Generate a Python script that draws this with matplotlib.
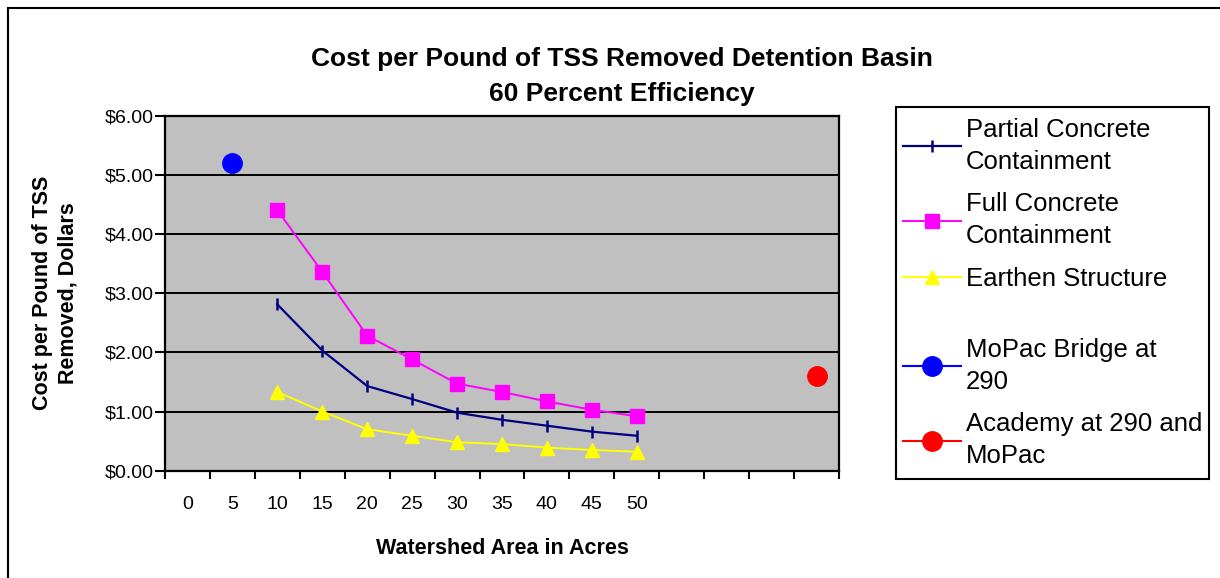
import matplotlib
matplotlib.use("Agg")
import matplotlib.pyplot as plt
from matplotlib.patches import Rectangle

plt.rcParams['font.family'] = ['Liberation Sans', 'DejaVu Sans']

# ---- data ----
categories = ["0", "5", "10", "15", "20", "25", "30", "35", "40", "45", "50", "", "", "", ""]
area_idx = [2, 3, 4, 5, 6, 7, 8, 9, 10]  # category positions for 10..50 acres
partial = [2.81, 2.03, 1.43, 1.21, 0.98, 0.86, 0.76, 0.66, 0.59]
full = [4.40, 3.36, 2.28, 1.88, 1.47, 1.33, 1.17, 1.03, 0.92]
earthen = [1.33, 1.00, 0.70, 0.59, 0.48, 0.45, 0.39, 0.35, 0.32]
mopac_idx, mopac_val = 1, 5.20
academy_idx, academy_val = 14, 1.60
yticks = [0, 1, 2, 3, 4, 5, 6]
ytick_labels = ["$0.00", "$1.00", "$2.00", "$3.00", "$4.00", "$5.00", "$6.00"]

W, H = 1220, 578
fig = plt.figure(figsize=(W / 100, H / 100), dpi=100)
fig.patch.set_facecolor("white")

# outer chart border
fig.add_artist(Rectangle((8 / W, -0.1), 1.2, 1.1 - 8 / H, transform=fig.transFigure,
                         fill=False, edgecolor="black", linewidth=1.5))

ax = fig.add_axes([165 / W, 1 - 470.7 / H, (839 - 165) / W, (470.7 - 115.5) / H])
ax.set_facecolor("#C0C0C0")

ax.plot(area_idx, partial, color="#000080", linewidth=1.6, marker="|",
        markersize=9, markeredgewidth=1.8, label="Partial Concrete\nContainment", zorder=4)
ax.plot(area_idx, full, color="#FF00FF", linewidth=1.4, marker="s",
        markersize=9.5, label="Full Concrete\nContainment", zorder=4)
ax.plot(area_idx, earthen, color="#FFFF00", linewidth=1.4, marker="^",
        markersize=10.5, label="Earthen Structure", zorder=4)
ax.plot([mopac_idx], [mopac_val], color="#0000FF", linestyle="none", marker="o",
        markersize=14, label="MoPac Bridge at\n290", zorder=4)
ax.plot([academy_idx], [academy_val], color="#FF0000", linestyle="none", marker="o",
        markersize=14, label="Academy at 290 and\nMoPac", zorder=4)

ax.set_xlim(-0.5, len(categories) - 0.5)
ax.set_ylim(0, 6)
ax.set_yticks(yticks)
ax.set_yticklabels(ytick_labels, fontsize=14)
ax.yaxis.grid(True, color="black", linewidth=1.4)
ax.set_axisbelow(True)

# category boundaries as ticks, labels centered between
ax.set_xticks([i - 0.5 for i in range(len(categories) + 1)])
ax.set_xticklabels([])
ax.set_xticks(range(len(categories)), minor=True)
ax.set_xticklabels(categories, minor=True, fontsize=14)
ax.tick_params(axis="x", which="major", length=6, width=1.5, direction="out")
ax.tick_params(axis="x", which="minor", length=0, pad=18)
ax.tick_params(axis="y", length=7, width=1.5, pad=1)

for s in ax.spines.values():
    s.set_linewidth(1.6)
    s.set_color("black")

ax.set_xlabel("Watershed Area in Acres", fontsize=15.5, fontweight="bold", labelpad=18)
ax.set_ylabel("Cost per Pound of TSS\nRemoved, Dollars", fontsize=15.5,
              fontweight="bold", labelpad=19, linespacing=1.25)

fig.text(622 / W, 1 - 59 / H, "Cost per Pound of TSS Removed Detention Basin",
         ha="center", va="center", fontsize=19, fontweight="bold")
fig.text(622 / W, 1 - 94 / H, "60 Percent Efficiency",
         ha="center", va="center", fontsize=19, fontweight="bold")

# legend box
fig.add_artist(Rectangle((896 / W, 1 - 479 / H), (1209 - 896) / W, (479 - 107) / H,
                         transform=fig.transFigure, fill=False, edgecolor="black",
                         linewidth=1.5, zorder=1))
handles, labels = ax.get_legend_handles_labels()
leg_kw = dict(loc="upper left", frameon=False, fontsize=18.5, handlelength=2.25,
              handletextpad=0.2, labelspacing=0.72, borderaxespad=0, borderpad=0)
leg1 = fig.legend(handles[:3], labels[:3], bbox_to_anchor=(903 / W, 1 - 118 / H), **leg_kw)
leg2 = fig.legend(handles[3:], labels[3:], bbox_to_anchor=(903 / W, 1 - 338 / H), **leg_kw)
for leg in (leg1, leg2):
    for t in leg.get_texts():
        t.set_linespacing(1.42)
# legend handles for the point series show connecting line as in reference
for lh, c in zip(leg2.get_lines(), ["#0000FF", "#FF0000"]):
    lh.set_linestyle("-")
    lh.set_linewidth(1.5)

fig.savefig("out.png", dpi=100)
